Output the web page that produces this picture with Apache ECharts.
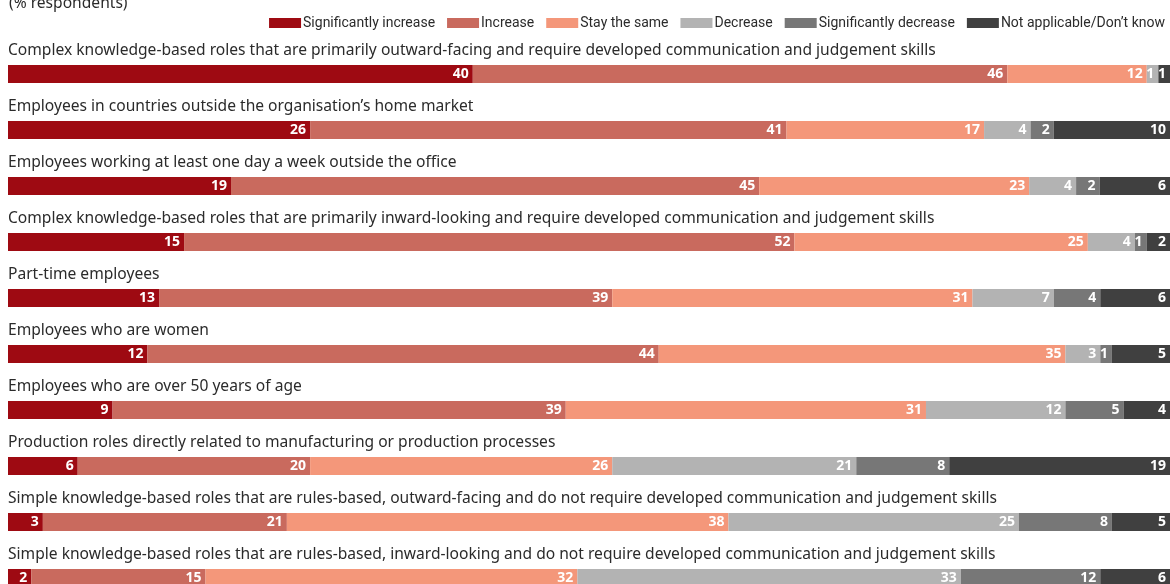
<!DOCTYPE html>
<html>
<head>
<meta charset="utf-8">
<script src="https://cdn.jsdelivr.net/npm/echarts@6/dist/echarts.min.js"></script>
<style>
html,body{margin:0;padding:0;background:#fff;overflow:hidden;}
#main{width:1170px;height:606px;}
</style>
</head>
<body>
<div id="main"></div>
<script>
// categories (top to bottom)
var categories = [
	'Complex knowledge-based roles that are primarily outward-facing and require developed communication and judgement skills',
	'Employees in countries outside the organisation\u2019s home market',
	'Employees working at least one day a week outside the office',
	'Complex knowledge-based roles that are primarily inward-looking and require developed communication and judgement skills',
	'Part-time employees',
	'Employees who are women',
	'Employees who are over 50 years of age',
	'Production roles directly related to manufacturing or production processes',
	'Simple knowledge-based roles that are rules-based, outward-facing and do not require developed communication and judgement skills',
	'Simple knowledge-based roles that are rules-based, inward-looking and do not require developed communication and judgement skills'
];
var seriesNames = ['Significantly increase','Increase','Stay the same','Decrease','Significantly decrease','Not applicable/Don\u2019t know'];
var colors = ['#9e0a12','#c96a5e','#f4977a','#b3b3b3','#777777','#404040'];

var sigIncrease = [40,26,19,15,13,12,9,6,3,2];
var increase    = [46,41,45,52,39,44,39,20,21,15];
var staySame    = [12,17,23,25,31,35,31,26,38,32];
var decrease    = [1,4,4,4,7,3,12,21,25,33];
var sigDecrease = [0,2,2,1,4,1,5,8,8,12];
var notApplic   = [1,10,6,2,6,5,4,19,5,6];

var allData = [sigIncrease,increase,staySame,decrease,sigDecrease,notApplic];

// each bar fills the full width (rounded values may add to 99)
var rowSum = categories.map(function(c,i){
	var s = 0;
	for(var k=0;k<allData.length;k++){ s += allData[k][i]; }
	return s;
});

var series = seriesNames.map(function(name,k){
	return {
		name: name,
		type: 'bar',
		stack: 'total',
		barWidth: 18,
		itemStyle: {color: colors[k]},
		label: {
			show: true,
			position: 'insideRight',
			distance: 4,
			color: '#fff',
			fontFamily: 'Noto Sans',
			fontWeight: 'bold',
			fontSize: 14,
			formatter: function(p){ return p.data.raw > 0 ? p.data.raw : ''; }
		},
		data: allData[k].map(function(v,i){
			return {value: v / rowSum[i] * 100, raw: v};
		})
	};
});

var chart = echarts.init(document.getElementById('main'));
chart.setOption({
	animation: false,
	title: {
		text: '(% respondents)',
		left: 4,
		top: -9,
		textStyle: {fontFamily: 'Noto Sans', fontSize: 15.6, fontWeight: 'normal', color: '#2b2b2b'}
	},
	legend: {
		right: 0,
		top: 11,
		itemWidth: 32,
		itemHeight: 10,
		itemGap: 12,
		icon: 'rect',
		data: seriesNames,
		textStyle: {fontFamily: 'Roboto', fontSize: 14, color: '#2b2b2b', padding: [0,0,0,-3]}
	},
	grid: {left: 8, right: 0, top: 46, bottom: 0},
	xAxis: {type: 'value', min: 0, max: 100, show: false},
	yAxis: {
		type: 'category',
		inverse: true,
		z: 10,
		data: categories,
		axisLine: {show: false},
		axisTick: {show: false},
		axisLabel: {
			show: true,
			inside: true,
			interval: 0,
			margin: 0,
			fontFamily: 'Noto Sans',
			fontSize: 15.6,
			color: '#2b2b2b',
			verticalAlign: 'bottom',
			lineHeight: 20,
			padding: [0,0,13,0]
		}
	},
	series: series
});
</script>
</body>
</html>
